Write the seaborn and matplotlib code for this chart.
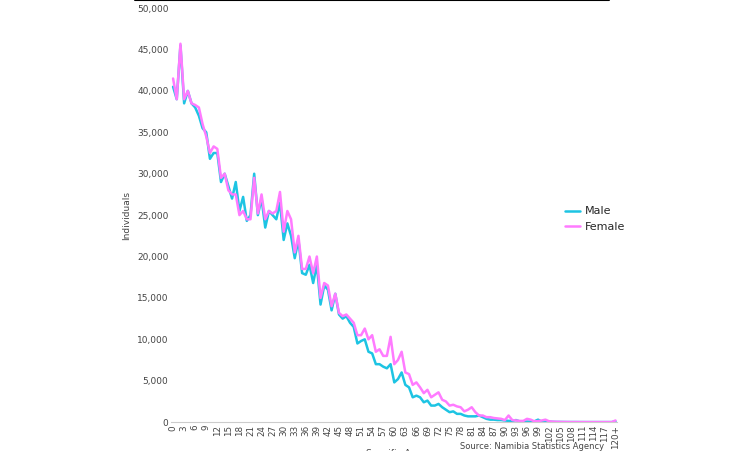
import matplotlib
matplotlib.use("Agg")
import matplotlib.pyplot as plt
import seaborn as sns
import pandas as pd
import numpy as np

ages = list(range(121))
age_labels = [str(a) for a in range(0, 120, 3)] + ["120+"]
male = [40500,39000,45500,38500,40000,38500,38000,37000,35500,35000,
        31800,32500,32500,29000,30000,28500,27000,29000,25500,27200,
        24300,25000,30000,25000,27000,23500,25500,25000,24500,26500,
        22000,24000,22500,19800,22000,18000,17800,19000,16800,19000,
        14200,16500,16000,13500,15500,13000,12500,12800,12000,11500,
        9500,9800,10000,8500,8300,7000,7000,6700,6500,7000,
        4800,5200,6000,4500,4200,3000,3200,3000,2400,2600,
        2000,2000,2200,1800,1500,1200,1300,1000,1000,800,
        700,700,700,800,600,400,300,300,250,250,
        200,150,150,250,100,80,60,60,100,300,
        50,40,60,30,20,20,15,10,10,10,
        8,8,5,5,5,5,5,5,5,5,100]
female = [41500,39000,45700,39000,40000,38500,38300,38000,36000,34500,
          32500,33300,33000,29500,30000,28000,27500,27500,25000,25500,
          24500,24500,29500,25200,27500,24500,25500,25200,25500,27800,
          23000,25500,24500,20500,22500,18500,18500,20000,18000,20000,
          15000,16800,16500,14000,15500,13200,12800,13000,12500,12000,
          10500,10500,11300,10000,10500,8500,8800,8000,8000,10300,
          7000,7500,8500,6000,5800,4500,4800,4200,3500,3900,
          3000,3300,3600,2700,2500,2000,2100,1900,1800,1300,
          1500,1800,1200,800,800,600,600,500,450,400,
          250,800,250,200,150,150,400,300,100,120,
          200,300,100,60,40,30,20,15,10,10,
          8,8,5,5,5,5,5,5,5,5,200]

df = pd.DataFrame({"age": ages * 2, "val": male + female,
                   "sex": ["Male"] * 121 + ["Female"] * 121})

sns.set_style("white")
fig = plt.figure(figsize=(7.51, 4.51), dpi=100)
ax = fig.add_axes([0.228, 0.064, 0.594, 0.918])
sns.lineplot(data=df, x="age", y="val", hue="sex",
             palette={"Male": "#1DC4E3", "Female": "#FF7BFF"},
             linewidth=1.8, ax=ax)
ax.set_xlim(-0.5, 120.5)
ax.set_ylim(0, 50000)
ax.set_xticks(list(range(0, 120, 3)) + [120])
ax.set_xticklabels(age_labels, rotation=90, fontsize=6.3, color="#444")
ax.set_yticks(range(0, 50001, 5000))
ax.set_yticklabels([f"{v:,}" for v in range(0, 50001, 5000)], fontsize=6.5, color="#444")
ax.tick_params(axis="both", length=0, pad=2)
for s in ["top", "right", "left"]:
    ax.spines[s].set_visible(False)
ax.spines["bottom"].set_color("#ccc")
ax.set_xlabel("Specific Age", fontsize=6.5, color="#444", labelpad=0)
ax.set_ylabel("Individuals", fontsize=6.5, color="#444", labelpad=4)
leg = ax.legend(loc="center left", bbox_to_anchor=(0.86, 0.49), frameon=False,
                fontsize=8, handlelength=1.4, handletextpad=0.4, labelspacing=0.5, title=None)
fig.add_artist(plt.Line2D([135/751, 609/751], [0.999, 0.999], color="black", lw=1.5))
fig.text(460/751, 0.001, "Source: Namibia Statistics Agency", fontsize=6, color="#444", va="bottom")
fig.savefig("out.png", dpi=100)
